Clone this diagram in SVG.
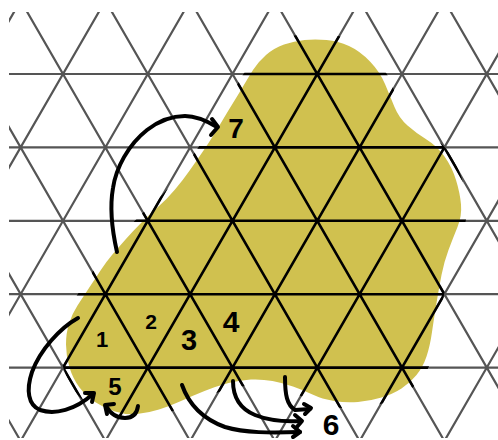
<svg xmlns="http://www.w3.org/2000/svg" xmlns:xlink="http://www.w3.org/1999/xlink" width="498" height="440" viewBox="0 0 498 440">
<style>
.gray{fill:none;stroke:#555555;stroke-width:2.2}
.black{fill:none;stroke:#000;stroke-width:2.6}
.blob{fill:#d0c14f}
.hand{fill:none;stroke:#000;stroke-width:4;stroke-linecap:round;stroke-linejoin:round}
.num{font-family:"Liberation Sans","DejaVu Sans",sans-serif;font-weight:bold;fill:#000;text-anchor:middle}
</style>
<defs>
<clipPath id="area"><rect x="9" y="12" width="489" height="426"/></clipPath>
<path id="blobshape" d="M304.5,40 Q315,39 326.5,40 Q338,41 349,46 Q360,51 370,61.5 Q380,72 385,84 Q390,96 394.5,107 Q399,118 407.5,125.5 Q416,133 426.5,139.5 Q437,146 444.5,156.5 Q452,167 456,180 Q460,193 461,204.5 Q462,216 457.5,227 Q453,238 448.5,250 Q444,262 441.5,275 Q439,288 436.5,303 Q434,318 432,332 Q430,346 426.5,356.5 Q423,367 416.5,375 Q410,383 401.5,388.5 Q393,394 381.5,397.5 Q370,401 358,402 Q346,403 334,401 Q322,399 312.5,394.5 Q303,390 293,386.5 Q283,383 272.5,381 Q262,379 251,379.5 Q240,380 228.5,383 Q217,386 204.5,391 Q192,396 181,401 Q170,406 159,409.5 Q148,413 137,414 Q126,415 115,411.5 Q104,408 95,402 Q86,396 79.5,387.5 Q73,379 69.5,367.5 Q66,356 66,344.5 Q66,333 69,323.5 Q72,314 77.5,305.5 Q83,297 89,288 Q95,279 100.5,270.5 Q106,262 112,255 Q118,248 125.5,239.5 Q133,231 141.5,222.5 Q150,214 158.5,206.5 Q167,199 175,189.5 Q183,180 190,170 Q197,160 202.5,152 Q208,144 213,136 Q218,128 223,119.5 Q228,111 233,103 Q238,95 243,86.5 Q248,78 253,70 Q258,62 266,55 Q274,48 284,44.5 Q294,41 304.5,40 Z"/>
<mask id="inblob" maskUnits="userSpaceOnUse" x="0" y="0" width="498" height="440">
<use xlink:href="#blobshape" fill="#fff" stroke="#fff" stroke-width="12"/>
</mask>
<path id="grid" d="M9,74H498 M9,147.4H498 M9,220.8H498 M9,294.2H498 M9,367.6H498
M26.75,-10L-238.83,450 M111.5,-10L-154.08,450 M196.25,-10L-69.33,450 M281,-10L15.42,450 M365.75,-10L100.17,450 M450.5,-10L184.92,450 M535.25,-10L269.67,450 M620,-10L354.42,450 M704.75,-10L439.17,450
M-239.75,-10L25.83,450 M-155,-10L110.58,450 M-70.25,-10L195.33,450 M14.5,-10L280.08,450 M99.25,-10L364.83,450 M184,-10L449.58,450 M268.75,-10L534.33,450 M353.5,-10L619.08,450 M438.25,-10L703.83,450"/>
</defs>
<rect width="498" height="440" fill="#fff"/>
<g id="grid-background" clip-path="url(#area)">
<use xlink:href="#grid" class="gray"/>
<line x1="9" y1="438.5" x2="498" y2="438.5" stroke="#dddddd" stroke-width="1"/>
</g>
<g id="region">
<use xlink:href="#blobshape" class="blob"/>
</g>
<g id="grid-region" clip-path="url(#area)">
<g mask="url(#inblob)"><use xlink:href="#grid" class="black"/></g>
</g>
<g id="connectors" class="hand">
<g id="arrow-to-7"><path d="M117,252 C112,230 110,205 113,188 C116,168 128,145 147,130 C160,120 172,116 185,116 C197,116 207,121 217,127"/><path d="M212,119 L218,127 L211,135"/></g>
<g id="arrow-1-5"><path d="M78,318 C60,328 40,350 32,372 C26,390 28,405 40,410 C55,415 75,410 93,394"/><path d="M85,393 L94,393 L92,402"/></g>
<g id="arrow-hook-5"><path d="M138,406 C137,414 133,418 125,418 C117,418 110,413 106,406"/><path d="M114,404 L105,405 L107,414"/></g>
<g id="arrow-3-6"><path d="M182,385 C188,402 200,418 225,427 C245,433 270,433 300,432"/><path d="M293,426 L300,432 L293,437"/></g>
<g id="arrow-4-6"><path d="M233,381 C233,395 238,408 255,415 C270,421 285,422 301,421"/><path d="M295,415 L302,421 L296,428"/></g>
<g id="arrow-to-6"><path d="M285,377 C285,395 287,405 295,410 L310,409"/><path d="M304,404 L311,408 L305,414"/></g>
</g>
<g id="node-1"><text class="num" x="102" y="347" font-size="22">1</text></g>
<g id="node-2"><text class="num" x="151" y="329" font-size="21">2</text></g>
<g id="node-3"><text class="num" x="189" y="350" font-size="29">3</text></g>
<g id="node-4"><text class="num" x="231" y="332" font-size="30">4</text></g>
<g id="node-5"><text class="num" x="115" y="395" font-size="24">5</text></g>
<g id="node-6"><text class="num" x="331" y="435" font-size="30">6</text></g>
<g id="node-7"><text class="num" x="236" y="138" font-size="28">7</text></g>
</svg>
